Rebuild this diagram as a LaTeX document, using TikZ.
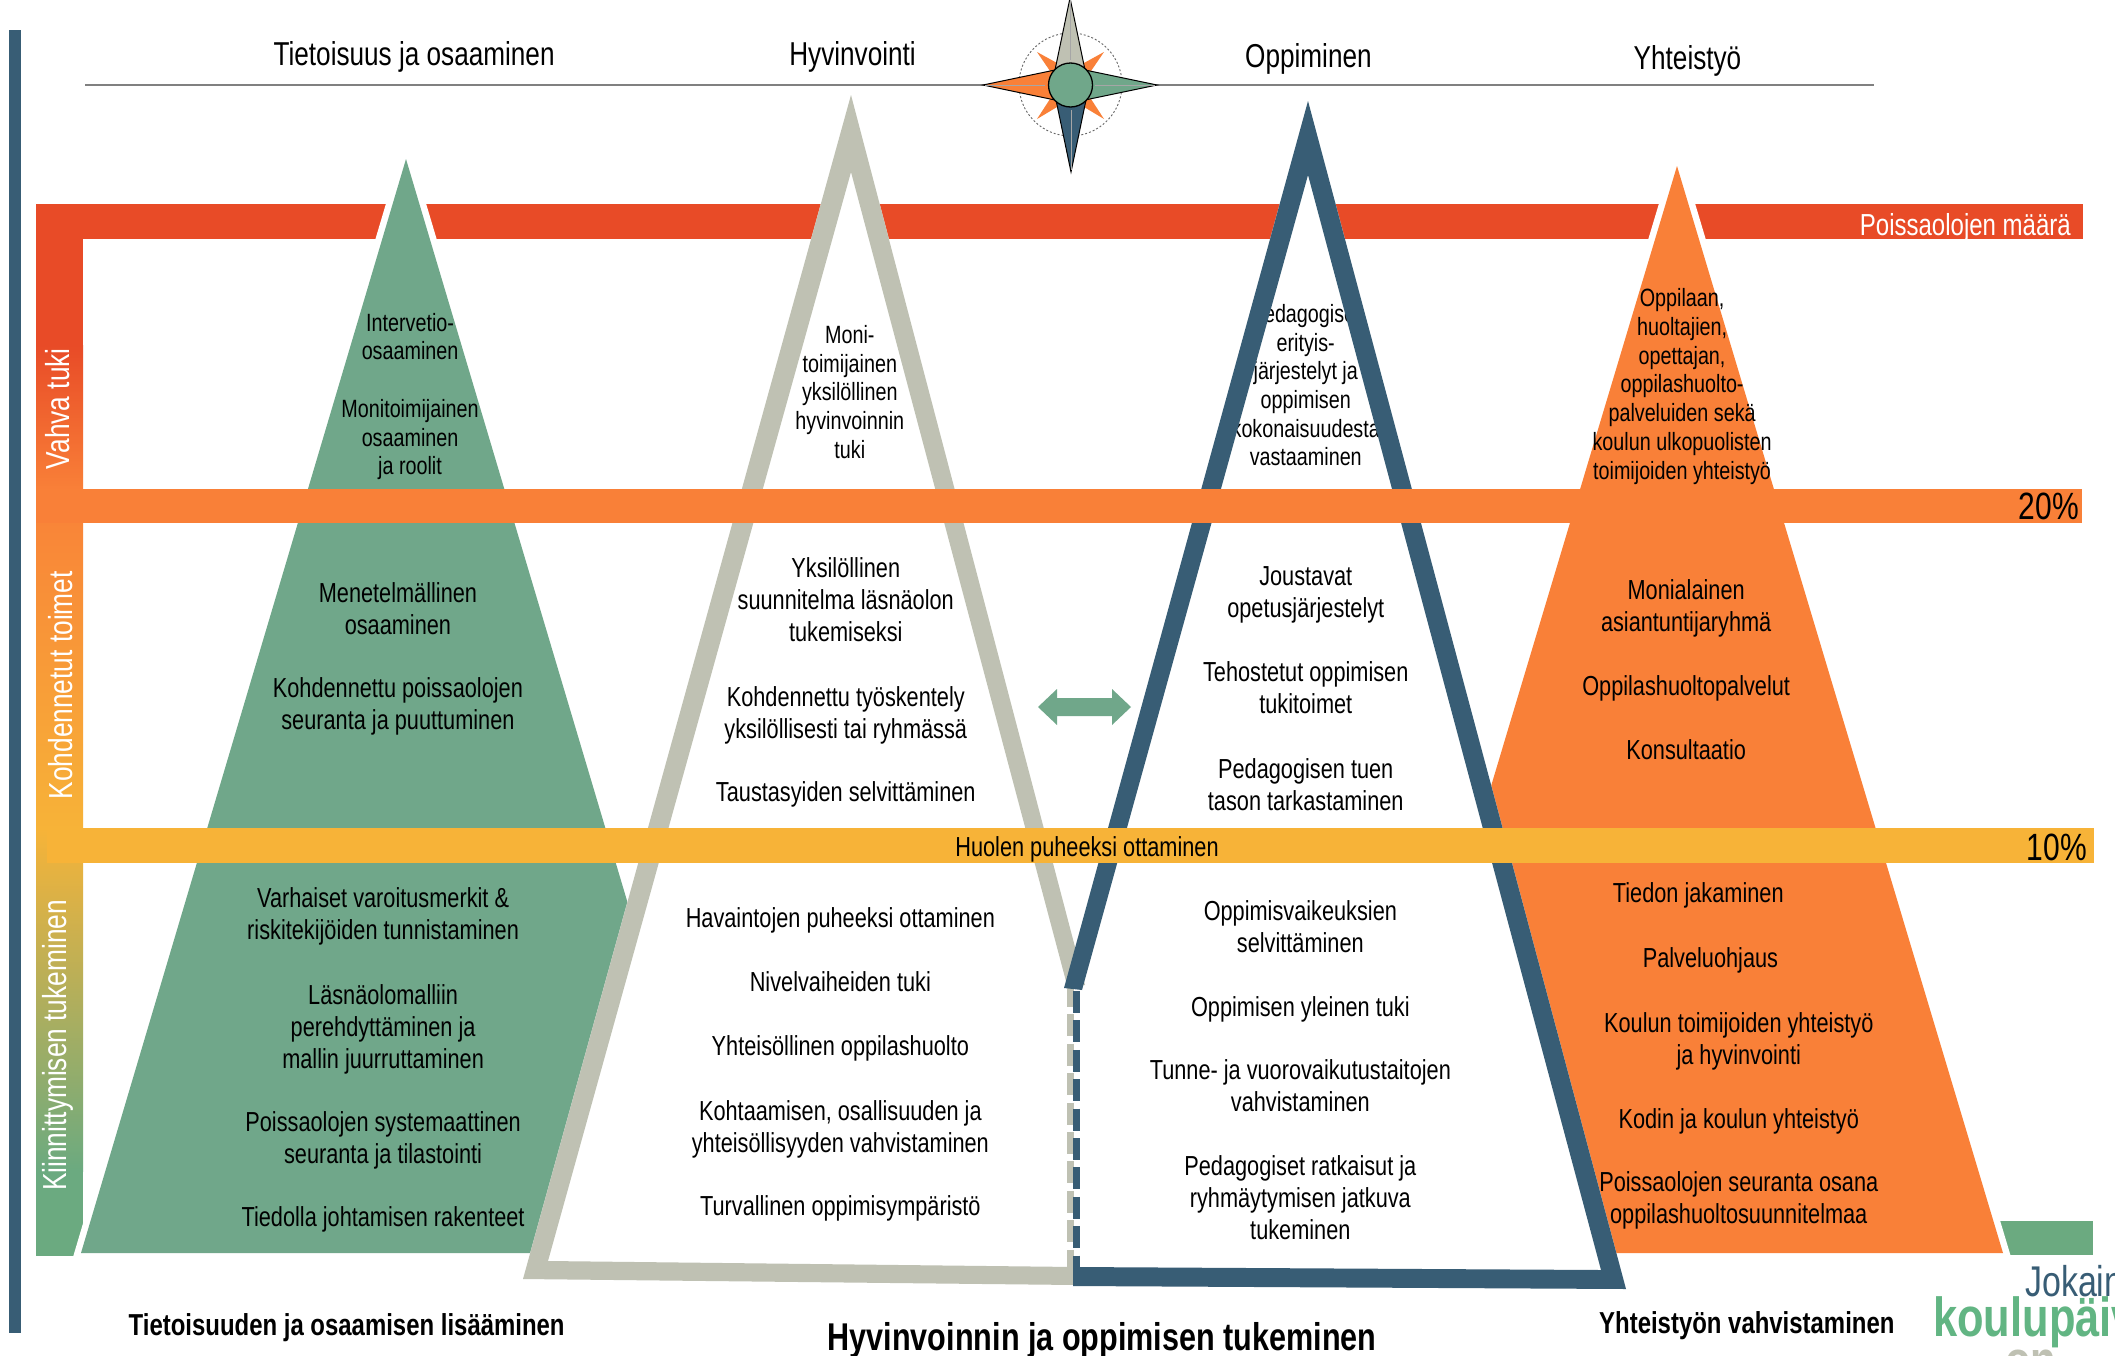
\documentclass[tikz,border=0pt]{standalone}
\usepackage{fontspec}
\setmainfont[FakeStretch=0.79]{Liberation Sans}
\definecolor{cblue}{HTML}{385D75}
\definecolor{cgrey}{HTML}{BFC1B3}
\definecolor{cgreen}{HTML}{70A78A}
\definecolor{cbgreen}{HTML}{6BAA80}
\definecolor{corange}{HTML}{F98038}
\definecolor{cred}{HTML}{E84B27}
\definecolor{cyellow}{HTML}{F7B338}
\definecolor{clogo}{HTML}{62B583}
\tikzset{
  body/.style={align=center,inner sep=0pt,text=black,font=\fontsize{27.5}{32}\selectfont},
  small/.style={align=center,inner sep=0pt,text=black,font=\fontsize{25}{28.7}\selectfont},
  head/.style={inner sep=0pt,text=black,font=\fontsize{33.1}{38}\selectfont},
  foot/.style={inner sep=0pt,text=black,font=\fontsize{30.3}{36}\bfseries\selectfont},
  footbig/.style={inner sep=0pt,text=black,font=\fontsize{38.7}{44}\bfseries\selectfont},
  side/.style={inner sep=0pt,text=white,rotate=90,font=\fontsize{33.3}{38}\selectfont},
  logo/.style={inner sep=0pt,anchor=base west},
  starline/.style={draw=black,line width=1pt,line join=miter},
  halo/.style={draw=white,line width=13pt,line join=miter}
}
\begin{document}
\begin{tikzpicture}[x=1pt,y=-1pt]
\useasboundingbox (0,0) rectangle (2115,1355);
\clip (0,0) rectangle (2115,1355);
\fill[white] (0,0) rectangle (2115,1355);
% left bar
\fill[cblue] (8.7,30) rectangle (21,1333);
% horizontal rule
\draw[draw=black!50,line width=1.3pt] (85,85) -- (1874,85);
% red bar and graded column
\fill[cred] (36,204) rectangle (2083,239);
\fill[cred] (36,204) rectangle (83,346);
\fill[top color=cred,bottom color=corange] (36,345) rectangle (83,490);
\fill[top color=corange,bottom color=cyellow] (36,489) rectangle (83,829);
\fill[top color=cyellow,bottom color=cbgreen] (36,828) rectangle (83,1171);
\fill[cbgreen] (36,1170) rectangle (83,1256);
% small green block bottom right
\fill[cbgreen] (1990,1221) rectangle (2093,1255);
% orange triangle
\draw[halo] (1677,166) -- (1351,1253) -- (2003,1253) -- cycle;
\fill[corange] (1677,166) -- (1351,1253) -- (2003,1253) -- cycle;
% green triangle
\draw[halo] (406,159) -- (81,1253) -- (732,1253) -- cycle;
\fill[cgreen] (406,159) -- (81,1253) -- (732,1253) -- cycle;
% white inside of outlined triangles
\fill[white] (851,95) -- (1085,985) -- (1076,985) -- (1076,1285) -- (523,1279) -- cycle;
\fill[white] (1308,101) -- (1626,1289) -- (1073,1286) -- (1073,990) -- (1064,988) -- cycle;
% texts in shrunken coordinates
\begin{scope}[x=1.3489pt,y=-1.3489pt]
\node[head] (h1) at (307,42) {Tietoisuus ja osaaminen};
\node[head] (h2) at (632,42) {Hyvinvointi};
\node[head] (h3) at (970,44) {Oppiminen};
\node[head] (h4) at (1251,45) {Yhteistyö};
\node[side] (s1) at (43,303) {Vahva tuki};
\node[side] (s2) at (45,508) {Kohdennetut toimet};
\node[side] (s3) at (43,775) {Kiinnittymisen tukeminen};
% green
\node[small] (g1) at (304,249.5) {Intervetio-\\osaaminen};
\node[small] (g2) at (304,326) {Monitoimijainen\\osaaminen\\ja roolit};
\node[body] (g3) at (295,451) {Menetelmällinen\\osaaminen};
\node[body] (g4) at (295,524) {Kohdennettu poissaolojen\\seuranta ja puuttuminen};
\node[body] (g5) at (284,679) {Varhaiset varoitusmerkit \&\\riskitekijöiden tunnistaminen};
\node[body] (g6) at (284,763) {Läsnäolomalliin\\perehdyttäminen ja\\mallin juurruttaminen};
\node[body] (g7) at (284,845.5) {Poissaolojen systemaattinen\\seuranta ja tilastointi};
\node[body] (g8) at (284,904) {Tiedolla johtamisen rakenteet};
% grey
\node[small] (w1) at (630,290.5) {Moni-\\toimijainen\\yksilöllinen\\hyvinvoinnin\\tuki};
\node[body] (w2) at (627,444.5) {Yksilöllinen\\suunnitelma läsnäolon\\tukemiseksi};
\node[body] (w3) at (627,530) {Kohdennettu työskentely\\yksilöllisesti tai ryhmässä};
\node[body] (w4) at (627,589) {Taustasyiden selvittäminen};
\node[body] (w5) at (623,682) {Havaintojen puheeksi ottaminen};
\node[body] (w6) at (623,728) {Nivelvaiheiden tuki};
\node[body] (w7) at (623,777) {Yhteisöllinen oppilashuolto};
\node[body] (w8) at (623,837) {Kohtaamisen, osallisuuden ja\\yhteisöllisyyden vahvistaminen};
\node[body] (w9) at (623,896) {Turvallinen oppimisympäristö};
% blue
\node[small] (b1) at (968,285.5) {Pedagogiset\\erityis-\\järjestelyt ja\\oppimisen\\kokonaisuudesta\\vastaaminen};
\node[body] (b2) at (968,441) {Joustavat\\opetusjärjestelyt};
\node[body] (b3) at (968,510) {Tehostetut oppimisen\\tukitoimet};
\node[body] (b4) at (968,581.5) {Pedagogisen tuen\\tason tarkastaminen};
\node[body] (b5) at (964,687) {Oppimisvaikeuksien\\selvittäminen};
\node[body] (b6) at (964,748) {Oppimisen yleinen tuki};
\node[body] (b7) at (964,805) {Tunne- ja vuorovaikutustaitojen\\vahvistaminen};
\node[body] (b8) at (964,888) {Pedagogiset ratkaisut ja\\ryhmäytymisen jatkuva\\tukeminen};
% orange
\node[small] (o1) at (1247,286.5) {Oppilaan,\\huoltajien,\\opettajan,\\oppilashuolto-\\palveluiden sekä\\koulun ulkopuolisten\\toimijoiden yhteistyö};
\node[body] (o2) at (1250,451) {Monialainen\\asiantuntijaryhmä};
\node[body] (o3) at (1250,510) {Oppilashuoltopalvelut};
\node[body] (o4) at (1250,556) {Konsultaatio};
\node[body] (o5) at (1259,664) {Tiedon jakaminen};
\node[body] (o6) at (1268,712) {Palveluohjaus};
\node[body] (o7) at (1289,772) {Koulun toimijoiden yhteistyö\\ja hyvinvointi};
\node[body] (o8) at (1289,831) {Kodin ja koulun yhteistyö};
\node[body] (o9) at (1289,890) {Poissaolojen seuranta osana\\oppilashuoltosuunnitelmaa};
% footers
\node[foot] (f1) at (257,984) {Tietoisuuden ja osaamisen lisääminen};
\node[footbig] (f2) at (817,994) {Hyvinvoinnin ja oppimisen tukeminen};
\node[foot] (f3) at (1295,983) {Yhteistyön vahvistaminen};
\end{scope}
% outlined triangles
\fill[cgrey] (851,95) -- (1085,985) -- (1067,985) -- (851,172) -- (548,1261) -- (1076,1267) -- (1076,1285) -- (523,1279) -- cycle;
\draw[cgrey,line width=7pt,dash pattern=on 22pt off 7.4pt] (1070,985) -- (1070,1270);
\draw[cblue,line width=7pt,dash pattern=on 22pt off 7.4pt] (1076,991) -- (1076,1270);
\fill[cblue] (1308,101) -- (1626,1289) -- (1073,1286) -- (1073,1267) -- (1601,1270) -- (1308,175) -- (1082,990) -- (1064,988) -- cycle;
% bands
\fill[corange] (36,489) rectangle (2082,523);
\fill[cyellow] (47,828) rectangle (2094,863);
\node[inner sep=0pt,text=white,anchor=east,font=\fontsize{30.4}{36}\selectfont] (p) at (2071,228) {Poissaolojen määrä};
\node[inner sep=0pt,text=black,anchor=east,font=\fontsize{38}{44}\selectfont] (p20) at (2079,506) {20\%};
\node[inner sep=0pt,text=black,anchor=east,font=\fontsize{38}{44}\selectfont] (p10) at (2087,847) {10\%};
\node[body] (huoli) at (1087,849) {Huolen puheeksi ottaminen};
% double arrow
\fill[cgreen] (1038,707) -- (1057,689) -- (1057,698) -- (1112,698) -- (1112,689) -- (1131,707) -- (1112,725) -- (1112,716) -- (1057,716) -- (1057,725) -- cycle;
% compass
\draw[black!60,line width=0.9pt,dash pattern=on 2pt off 2pt] (1070.5,84.5) circle (51.5);
\fill[corange] (1037,52) -- (1057,63) -- (1065,78) -- (1050,71) -- cycle;
\fill[corange] (1104,52) -- (1084,63) -- (1076,78) -- (1091,71) -- cycle;
\fill[corange] (1037,119) -- (1050,99) -- (1065,92) -- (1057,107) -- cycle;
\fill[corange] (1104,119) -- (1091,99) -- (1076,92) -- (1084,107) -- cycle;
\fill[cgrey,starline] (1070,-2) -- (1055,70) -- (1085,70) -- cycle;
\fill[cblue,starline] (1071,172) -- (1056,100) -- (1086,100) -- cycle;
\fill[corange,starline] (983,85) -- (1055,70) -- (1055,100) -- cycle;
\fill[cgreen,starline] (1157,85) -- (1085,70) -- (1085,100) -- cycle;
\draw[black!35,line width=1pt] (1070,0) -- (1070,60) (1071,110) -- (1071,170) (985,85) -- (1045,85) (1095,85) -- (1155,85);
\fill[cgreen,draw=black,line width=1.3pt] (1070.5,85) circle (22);
% logo
\node[logo,text=cblue,font=\fontsize{43}{47}\selectfont] (l1) at (2025,1296) {Jokain};
\node[logo,text=clogo,font=\fontsize{55}{60}\bfseries\selectfont] (l2) at (1933,1336) {koulupäiv};
\node[logo,text=cgrey,font=\fontsize{53}{58}\bfseries\selectfont] (l3) at (2005,1378) {on};
\end{tikzpicture}
\end{document}
